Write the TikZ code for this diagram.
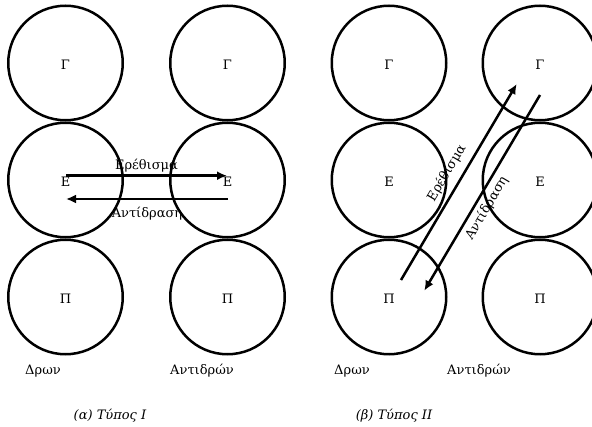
\documentclass[tikz,border=0pt]{standalone}
\usepackage{fontspec}
\setmainfont{DejaVu Serif}
\usetikzlibrary{arrows.meta,positioning}

\begin{document}
\begin{tikzpicture}[x=1pt, y=1pt, node distance=0pt, font=\fontsize{13}{16}\selectfont,
    cell/.style = {draw, circle, line width=2.5pt, minimum size=114.5pt, inner sep=0pt,
                   text height=14pt, text depth=0pt},
    link/.style = {line width=2.5pt, -{Latex[length=10pt,width=9pt]}},
    role/.style = {anchor=base}]
    \useasboundingbox (0,0) rectangle (592,426);
    % (a) Typos I
    \node[cell] (g1) at (65.5,363) {Γ};
    \node[cell] (e1) [below=of g1] {Ε};
    \node[cell] (p1) [below=of e1] {Π};
    \node[cell] (g2) at (227.5,363) {Γ};
    \node[cell] (e2) [below=of g2] {Ε};
    \node[cell] (p2) [below=of e2] {Π};
    \coordinate (s1) at (66,250.3);
    \coordinate (t1) at (227,250.3);
    \coordinate (s2) at (228,227);
    \coordinate (t2) at (66,227);
    \draw[link] (s1) -- (t1) node [midway, above=-1pt] {Ερέθισμα};
    \draw[link] (s2) -- (t2) node [midway, below=4pt] {Αντίδραση};
    \node[role] (d1) at (43,51) {Δρων};
    \node[role] (r1) at (202,51) {Αντιδρών};
    \node (capa) at (110,10) {\itshape (α) Τύπος I};
    % (b) Typos II
    \node[cell] (g3) at (389,363) {Γ};
    \node[cell] (e3) [below=of g3] {Ε};
    \node[cell] (p3) [below=of e3] {Π};
    \node[cell] (g4) at (540,363) {Γ};
    \node[cell] (e4) [below=of g4] {Ε};
    \node[cell] (p4) [below=of e4] {Π};
    \coordinate (s3) at (401,146);
    \coordinate (t3) at (516.7,342);
    \coordinate (s4) at (540,331);
    \coordinate (t4) at (424.3,135.3);
    \draw[link] (s3) -- (t3);
    \draw[link] (s4) -- (t4);
    \node[rotate=59.4] (l3) at (446.7,253) {Ερέθισμα};
    \node[rotate=59.4] (l4) at (486.7,218) {Αντίδραση};
    \node[role] (d2) at (352,51) {Δρων};
    \node[role] (r2) at (479,51) {Αντιδρών};
    \node (capb) at (394,10) {\itshape (β) Τύπος II};
\end{tikzpicture}
\end{document}
